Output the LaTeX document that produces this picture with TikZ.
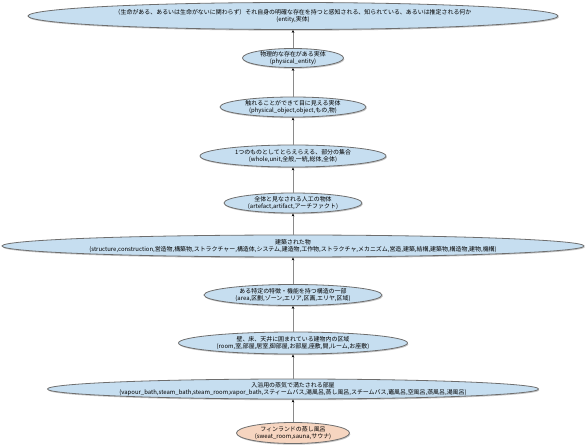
\documentclass[tikz,border=0pt]{standalone}
\usepackage{fontspec}
\setmainfont{Noto Sans CJK JP}
\usetikzlibrary{shapes.geometric,arrows.meta,shadows}
\definecolor{nodeblue}{HTML}{C6DEF0}
\definecolor{nodepeach}{HTML}{F6D5C0}
\definecolor{edgegray}{HTML}{8A8A8A}
\definecolor{bordergray}{HTML}{6E6E6E}
\begin{document}
\begin{tikzpicture}[x=1pt,y=-1pt,
  synset/.style={ellipse, draw=bordergray, line width=0.8pt, fill=nodeblue, inner sep=0pt,
    align=center, font=\fontsize{5.95}{7}\selectfont,
    drop shadow={shadow xshift=0.8pt, shadow yshift=-1.2pt, fill=black!45}},
  leaf/.style={synset, fill=nodepeach},
  hyper/.style={draw=edgegray, line width=0.6pt, -{Stealth[black,length=3pt,width=2.6pt]}}]
\useasboundingbox (0,0) rectangle (586,446);
\node[synset, minimum width=530, minimum height=27] (n1) at (293,16)
  {（生命がある、あるいは生命がないに関わらず）それ自身の明確な存在を持つと感知される、知られている、あるいは推定される何か\\(entity,実体)};
\node[synset, minimum width=101, minimum height=19] (n2) at (293,58)
  {物理的な存在がある実体\\(physical\_entity)};
\node[synset, minimum width=146, minimum height=20] (n3) at (293,107)
  {触れることができて目に見える実体\\(physical\_object,object,もの,物)};
\node[synset, minimum width=186, minimum height=22] (n4) at (293,156)
  {1つのものとしてとらえらえる、部分の集合\\(whole,unit,全般,一統,総体,全体)};
\node[synset, minimum width=138, minimum height=20] (n5) at (293,203)
  {全体と見なされる人工の物体\\(artefact,artifact,アーチファクト)};
\node[synset, minimum width=582, minimum height=22] (n6) at (293,246)
  {建築された物\\(structure,construction,営造物,構築物,ストラクチャー,構造体,システム,建造物,工作物,ストラクチャ,メカニズム,営造,建築,結構,建築物,構造物,建物,機構)};
\node[synset, minimum width=178, minimum height=21] (n7) at (293,295)
  {ある特定の特徴・機能を持つ構造の一部\\(area,区劃,ゾーン,エリア,区画,エリヤ,区域)};
\node[synset, minimum width=229, minimum height=22] (n8) at (293,343)
  {壁、床、天井に囲まれている建物内の区域\\(room,室,部屋,居室,御部屋,お部屋,座敷,間,ルーム,お座敷)};
\node[synset, minimum width=491, minimum height=20] (n9) at (293,389)
  {入浴用の蒸気で満たされる部屋\\(vapour\_bath,steam\_bath,steam\_room,vapor\_bath,スティームバス,湯風呂,蒸し風呂,スチームバス,竈風呂,空風呂,蒸風呂,湯風呂)};
\node[leaf, minimum width=113, minimum height=21] (n10) at (293,433)
  {フィンランドの蒸し風呂\\(sweat\_room,sauna,サウナ)};
\draw[hyper] (n2) -- (n1);
\draw[hyper] (n3) -- (n2);
\draw[hyper] (n4) -- (n3);
\draw[hyper] (n5) -- (n4);
\draw[hyper] (n6) -- (n5);
\draw[hyper] (n7) -- (n6);
\draw[hyper] (n8) -- (n7);
\draw[hyper] (n9) -- (n8);
\draw[hyper] (n10) -- (n9);
\end{tikzpicture}
\end{document}
